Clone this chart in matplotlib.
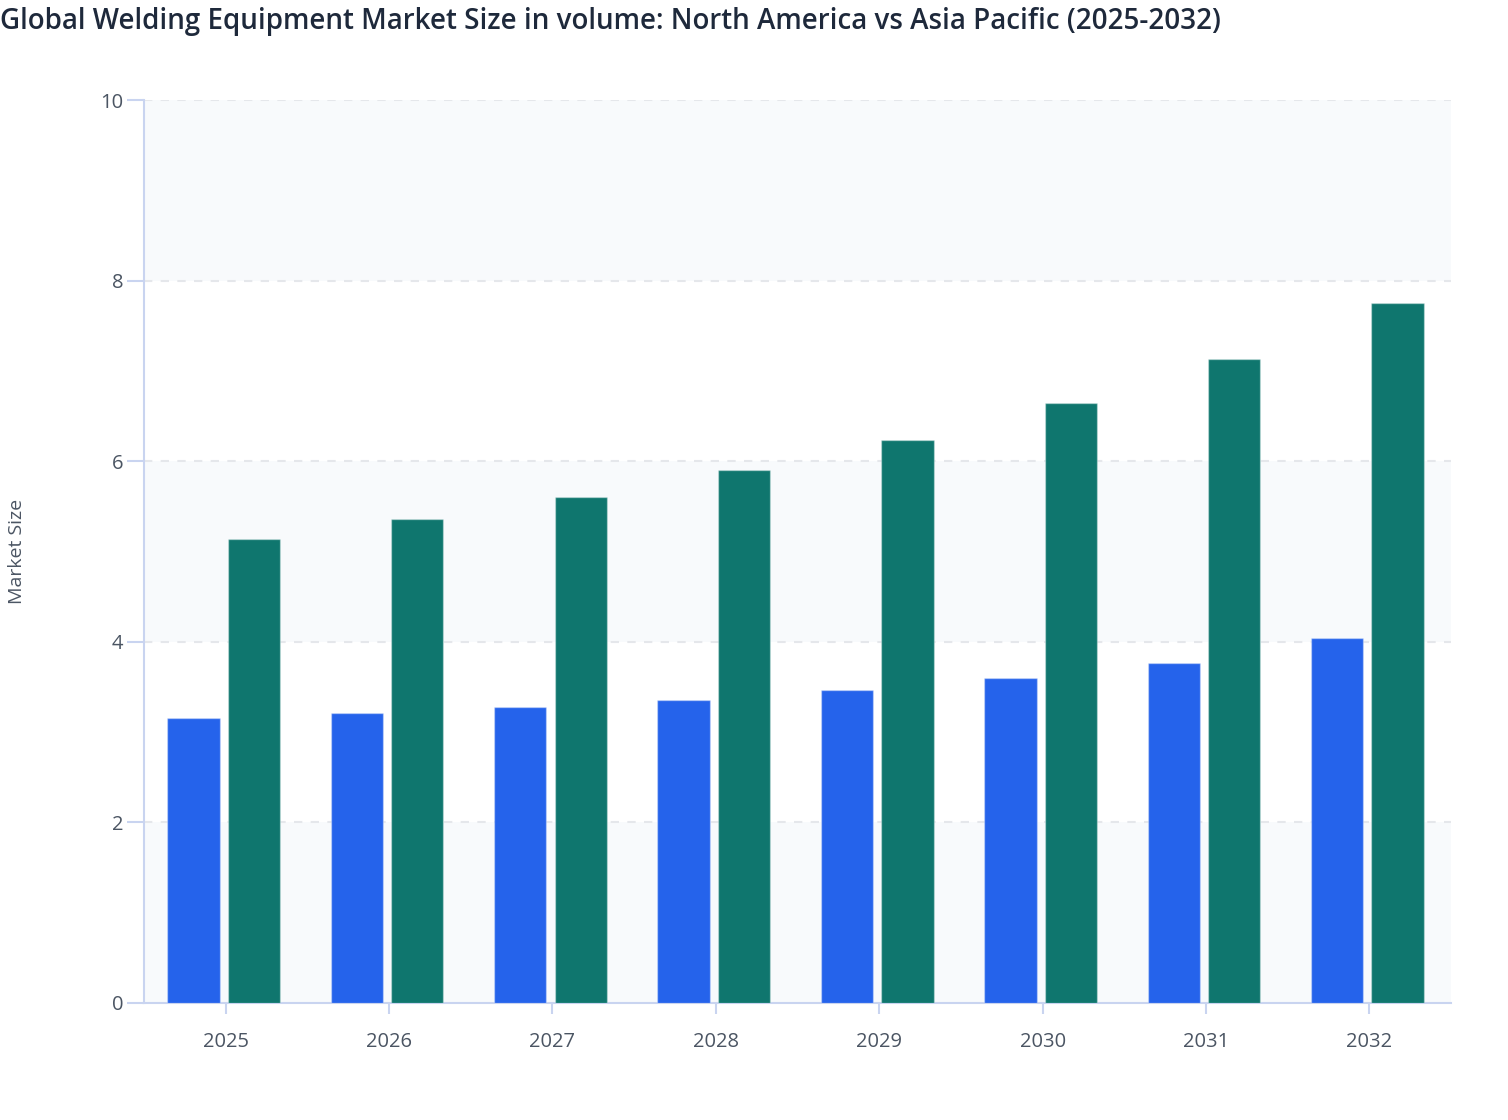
import matplotlib.pyplot as plt
import numpy as np

plt.rcParams['font.family'] = ['Open Sans', 'DejaVu Sans']

years = ['2025', '2026', '2027', '2028', '2029', '2030', '2031', '2032']
north_america = [3.16, 3.21, 3.28, 3.36, 3.47, 3.60, 3.77, 4.04]
asia_pacific = [5.14, 5.36, 5.60, 5.90, 6.23, 6.64, 7.13, 7.75]
y_ticks = [0, 2, 4, 6, 8, 10]

blue = '#2563eb'
teal = '#0f766e'
axis_col = '#c9d4f0'
text_col = '#4b5563'

fig = plt.figure(figsize=(15.08, 11.2), dpi=100)
ax = fig.add_axes([0.0955, 0.1045, 0.8667, 0.8062])

# alternate shaded bands
for lo in [0, 4, 8]:
    ax.axhspan(lo, lo + 2, color='#f8fafc', zorder=0, lw=0)

x = np.arange(len(years))
w = 0.32
ax.bar(x - 0.197, north_america, width=w, color=blue,
       edgecolor=(1, 1, 1, 0.35), linewidth=1, zorder=3)
ax.bar(x + 0.173, asia_pacific, width=w, color=teal,
       edgecolor=(1, 1, 1, 0.35), linewidth=1, zorder=3)

ax.set_xlim(-0.5, len(years) - 0.5)
ax.set_ylim(0, 10)
ax.set_xticks(x)
ax.set_xticklabels(years)
ax.set_yticks(y_ticks)

for t in y_ticks[1:]:
    ax.axhline(t, color='#e5e7eb', lw=1.5, ls=(0, (4, 4)), zorder=1)

for s in ['top', 'right']:
    ax.spines[s].set_visible(False)
for s in ['left', 'bottom']:
    ax.spines[s].set_color(axis_col)
    ax.spines[s].set_linewidth(1.5)

ax.tick_params(axis='x', length=8, width=1.5, color=axis_col,
               labelsize=14.5, labelcolor=text_col, pad=13)
ax.tick_params(axis='y', length=12, width=1.5, color=axis_col,
               labelsize=14.5, labelcolor=text_col, pad=3)

ax.set_ylabel('Market Size', fontsize=14, color=text_col, labelpad=0)
ax.yaxis.set_label_coords(-0.09, 0.5)

fig.text(0.0, 0.994, 'Global Welding Equipment Market Size in volume: North America vs Asia Pacific (2025-2032)',
         fontsize=20, fontweight='semibold', color='#1e293b', ha='left', va='top')

fig.savefig('out.png', dpi=100)
